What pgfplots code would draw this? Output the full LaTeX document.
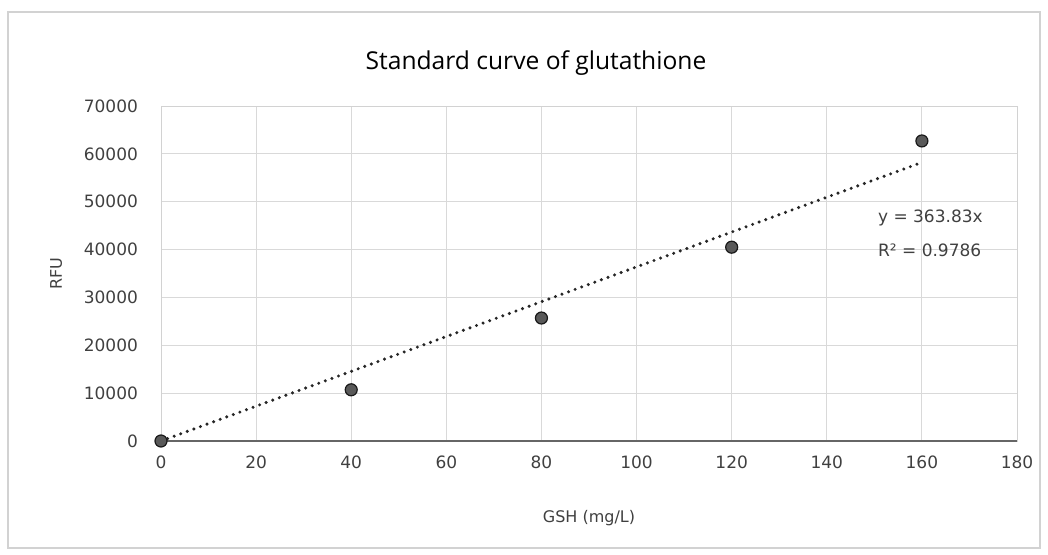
\documentclass[border=0pt]{standalone}
\usepackage{pgfplots}
\pgfplotsset{compat=1.18}
\usepackage{fontspec}
\setmainfont{DejaVu Sans}
\newfontfamily\titlefont{Open Sans}
\begin{document}
\begin{tikzpicture}
\begin{axis}[
    scale only axis,
    width=428pt, height=167.5pt,
    xmin=0, xmax=180, ymin=0, ymax=70000,
    xtick={0,20,...,180},
    ytick={0,10000,...,70000},
    scaled ticks=false,
    /pgf/number format/assume math mode=true,
    yticklabel style={/pgf/number format/fixed, /pgf/number format/1000 sep={}},
    ticklabel style={font=\fontsize{8.5}{10}\selectfont, text=black!75},
    major tick length=0pt,
    xticklabel shift=4pt,
    yticklabel shift=8pt,
    grid=major,
    grid style={gray!30, line width=0.5pt},
    axis line style={gray!35},
    title={\titlefont\fontsize{12.3}{14}\selectfont Standard curve of glutathione},
    title style={yshift=6pt, xshift=-26.5pt},
    xlabel={GSH (mg/L)},
    ylabel={RFU},
    label style={font=\fontsize{8}{10}\selectfont, text=black!75},
    xlabel style={yshift=-14pt},
    ylabel style={yshift=4pt},
    clip=false,
]
% dotted linear trendline y = 363.83x
\addplot[black!85, line width=1.7pt, line cap=round, dash pattern=on 0pt off 3.5pt]
    coordinates {(0,0) (160,58212.8)};
\addplot[only marks, mark=*, mark size=3pt, mark options={fill=black!65, draw=black!90, line width=0.6pt}]
    coordinates {(0,0) (40,10700) (80,25700) (120,40500) (160,62700)};
\draw[black!60, line width=0.9pt] (axis cs:0,0) -- (axis cs:180,0);
\node[anchor=west, font=\fontsize{8.5}{10}\selectfont, text=black!75] at (axis cs:149.3,46700) {y = 363.83x};
\node[anchor=west, font=\fontsize{8.5}{10}\selectfont, text=black!75] at (axis cs:149.3,39900) {R² = 0.9786};
\end{axis}
\useasboundingbox (-80.5pt,-57pt) rectangle (443.5pt,220.5pt);
\draw[gray!35, line width=0.6pt] (-76.5pt,-53.5pt) rectangle (439.5pt,214.5pt);
\end{tikzpicture}
\end{document}
